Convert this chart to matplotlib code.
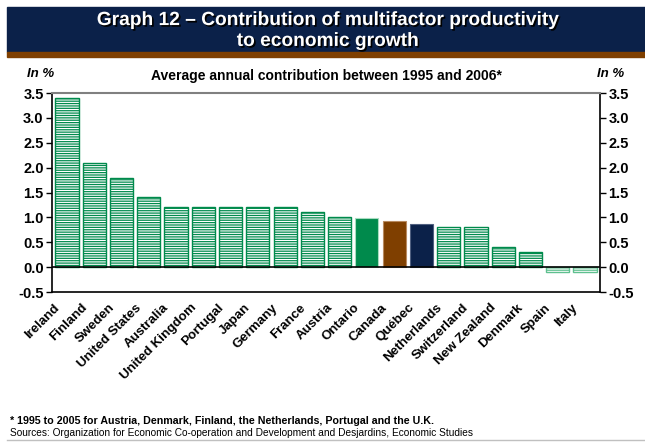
import numpy as np
import matplotlib
matplotlib.use('Agg')
import matplotlib.pyplot as plt
import matplotlib.patheffects as pe
import matplotlib.transforms as mtrans
from matplotlib.patches import Rectangle

plt.rcParams['font.family'] = ['Liberation Sans', 'DejaVu Sans']
plt.rcParams['hatch.linewidth'] = 0.9

# data
countries = ['Ireland', 'Finland', 'Sweden', 'United States', 'Australia',
             'United Kingdom', 'Portugal', 'Japan', 'Germany', 'France',
             'Austria', 'Ontario', 'Canada', 'Québec', 'Netherlands',
             'Switzerland', 'New Zealand', 'Denmark', 'Spain', 'Italy']
values = [3.4, 2.1, 1.8, 1.4, 1.2, 1.2, 1.2, 1.2, 1.2, 1.1,
          1.0, 0.98, 0.92, 0.86, 0.8, 0.8, 0.4, 0.3, -0.1, -0.1]
yticks = [-0.5, 0.0, 0.5, 1.0, 1.5, 2.0, 2.5, 3.0, 3.5]

GREEN = '#008a4c'
LIGHT = '#5fc08f'
BROWN = '#7f3f00'
NAVY = '#0b2149'

fig = plt.figure(figsize=(6.45, 4.44), dpi=100)

# bandeau du titre
fig.patches.append(Rectangle((7/645, 1-52/444), 638/645, 45/444,
                             transform=fig.transFigure, color=NAVY, zorder=0))
fig.patches.append(Rectangle((7/645, 1-57/444), 638/645, 5/444,
                             transform=fig.transFigure, color=BROWN, zorder=0))
fig.text(0.508, 1-31/444, 'Graph 12 – Contribution of multifactor productivity\nto economic growth',
         ha='center', va='center', color='white', fontsize=13.8, fontweight='bold',
         linespacing=1.3,
         path_effects=[pe.withSimplePatchShadow(offset=(1.2, -1.2), shadow_rgbFace='black', alpha=1)])

ax = fig.add_axes([52/645, 1-292/444, 548/645, 199/444])
x = np.arange(len(countries))

for i, (c, v) in enumerate(zip(countries, values)):
    if c == 'Ontario':
        ax.bar(i, v, width=0.85, color=GREEN, edgecolor='#a8dcc0', linewidth=0.8, zorder=2)
    elif c == 'Canada':
        ax.bar(i, v, width=0.85, color=BROWN, edgecolor='#b88a60', linewidth=0.8, zorder=2)
    elif c == 'Québec':
        ax.bar(i, v, width=0.85, color=NAVY, edgecolor='#506080', linewidth=0.8, zorder=2)
    else:
        col = LIGHT if v < 0 else GREEN
        plt.rcParams['hatch.color'] = col
        ax.bar(i, v, width=0.85, color='white', edgecolor=col, hatch='-' * 7,
               linewidth=1.0, zorder=2)

ax.axhline(0, color='black', linewidth=1.2, zorder=3)
ax.set_xlim(-0.55, len(countries) - 0.45)
ax.set_ylim(-0.5, 3.5)
ax.set_yticks(yticks)
ax.set_yticklabels(['%.1f' % t for t in yticks], fontweight='bold', fontsize=10.5)
ax.tick_params(axis='y', which='both', direction='out', length=4, width=1,
               left=True, right=True, labelleft=True, labelright=True, pad=2)
ax.tick_params(axis='x', length=0, pad=10)
ax.set_xticks(x)
ax.set_xticklabels(countries, rotation=45, ha='right', va='center', rotation_mode='anchor',
                   fontweight='bold', fontsize=9.5)
for lab in ax.get_xticklabels():
    lab.set_transform(lab.get_transform() + mtrans.ScaledTranslation(-9/100, 0, fig.dpi_scale_trans))

for s in ['left', 'right', 'bottom']:
    ax.spines[s].set_color('black')
    ax.spines[s].set_linewidth(1.2)
ax.spines['top'].set_color('#808080')
ax.spines['top'].set_linewidth(1.5)

fig.text(27/645, 1-74/444, 'In %', ha='left', va='center', fontsize=9.5,
         fontweight='bold', fontstyle='italic')
fig.text(597/645, 1-74/444, 'In %', ha='left', va='center', fontsize=9.5,
         fontweight='bold', fontstyle='italic')
fig.text(326/645, 1-76/444, 'Average annual contribution between 1995 and 2006*',
         ha='center', va='center', fontsize=10, fontweight='bold')

fig.text(10/645, 1-421/444, '* 1995 to 2005 for Austria, Denmark, Finland, the Netherlands, Portugal and the U.K.',
         ha='left', va='center', fontsize=7.7, fontweight='bold')
fig.text(10/645, 1-433/444, 'Sources: Organization for Economic Co-operation and Development and Desjardins, Economic Studies',
         ha='left', va='center', fontsize=7.3)
fig.lines.append(plt.Line2D([7/645, 1], [1-440/444, 1-440/444], transform=fig.transFigure,
                            color='#c0c0c0', linewidth=1))

plt.savefig('out.png', dpi=100)
